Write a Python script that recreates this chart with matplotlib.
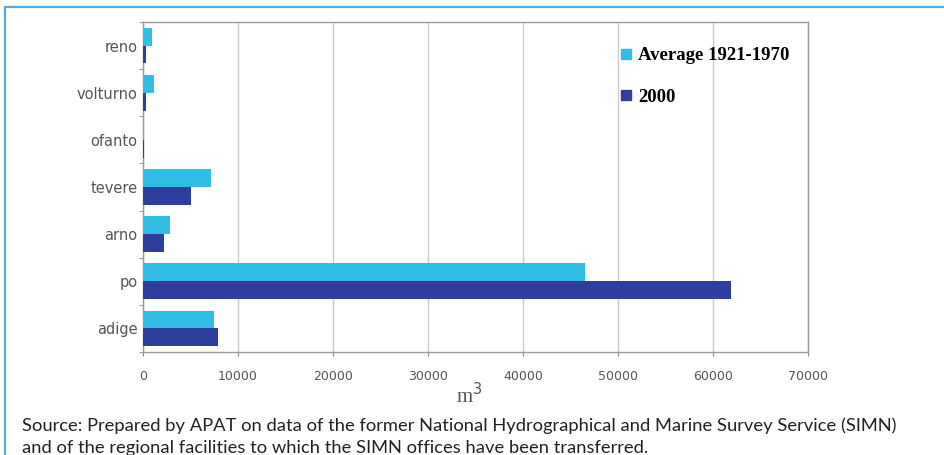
import matplotlib
matplotlib.use("Agg")
import matplotlib.pyplot as plt
from matplotlib.lines import Line2D
import numpy as np

categories = ["reno", "volturno", "ofanto", "tevere", "arno", "po", "adige"]
avg_1921_1970 = [900, 1200, 100, 7200, 2800, 46500, 7500]
year_2000 = [300, 300, 100, 5000, 2200, 61900, 7900]
xticks = [0, 10000, 20000, 30000, 40000, 50000, 60000, 70000]
series_labels = ["Average 1921-1970", "2000"]

light = "#31BDE6"
dark = "#2D3E9C"

fig = plt.figure(figsize=(9.44, 4.55), dpi=100)
W, H = 944, 455
ax = fig.add_axes([143 / W, 1 - 352 / H, 665 / W, 330 / H])

y = np.arange(len(categories))
bh = 0.38
ax.barh(y - bh / 2, avg_1921_1970, height=bh, color=light, zorder=3)
ax.barh(y + bh / 2, year_2000, height=bh, color=dark, zorder=3)
ax.set_ylim(len(categories) - 0.5, -0.5)
ax.set_xlim(0, 70000)
ax.set_xticks(xticks)
ax.set_xticklabels([str(t) for t in xticks], fontsize=9, color="#555555",
                   family="DejaVu Sans")
ax.set_yticks(y)
ax.set_yticklabels(categories, fontsize=10.5, color="#555555", family="DejaVu Sans")
ax.set_yticks(np.arange(-0.5, len(categories) + 0.5, 1), minor=True)
ax.tick_params(axis="y", which="major", length=0, pad=4)
ax.tick_params(axis="y", which="minor", length=3, color="#888888")
ax.tick_params(axis="x", length=3, color="#888888", pad=10)
ax.grid(axis="x", color="#cccccc", linewidth=1, zorder=0)
for s in ax.spines.values():
    s.set_color("#999999")
    s.set_linewidth(1)

fig.text(456 / W, 1 - 396 / H, "m$^3$", fontsize=15, family="Liberation Serif",
         color="#555555", ha="left", va="center")

handles = [Line2D([0], [0], marker="s", linestyle="none", markersize=7,
                  markerfacecolor=c, markeredgecolor=c) for c in (light, dark)]
leg = fig.legend(handles, series_labels, loc="upper left",
                 bbox_to_anchor=(620 / W, 1 - 47 / H), frameon=False,
                 prop={"family": "Liberation Serif", "weight": "bold", "size": 13.5},
                 handlelength=0.6, handletextpad=0.35, labelspacing=1.3,
                 borderpad=0, borderaxespad=0)

# blue frame
fig.add_artist(Line2D([5 / W, 1], [1 - 7 / H, 1 - 7 / H], color="#5BA6DA",
                      linewidth=1.6, transform=fig.transFigure))
fig.add_artist(Line2D([5 / W, 5 / W], [1 - 7 / H, 0], color="#5BA6DA",
                      linewidth=1.6, transform=fig.transFigure))

fig.text(22 / W, 1 - 426 / H,
         "Source: Prepared by APAT on data of the former National Hydrographical and Marine Survey Service (SIMN)",
         fontsize=13.2, family="Lato", color="#222222", ha="left", va="center")
fig.text(22 / W, 1 - 448 / H,
         "and of the regional facilities to which the SIMN offices have been transferred.",
         fontsize=13.2, family="Lato", color="#222222", ha="left", va="center")

fig.savefig("out.png", dpi=100)
